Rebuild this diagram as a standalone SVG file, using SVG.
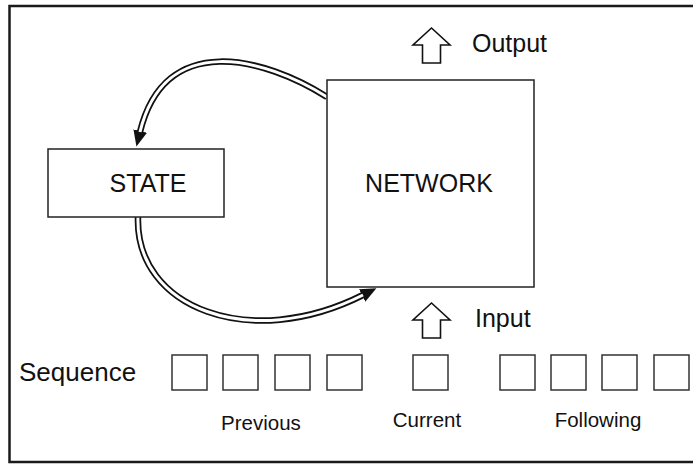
<svg xmlns="http://www.w3.org/2000/svg" width="693" height="464" viewBox="0 0 693 464">
  <style>
    .frame { fill: none; stroke: #1a1a1a; stroke-width: 2.5; }
    .box { fill: #fff; stroke: #222; stroke-width: 1.5; }
    .cell { fill: #fff; stroke: #333; stroke-width: 1.5; }
    .lbl { font-family: "Liberation Sans", Arial, sans-serif; fill: #111; }
    .big { font-size: 25px; }
    .small { font-size: 20.5px; }
    .wire-outer { fill: none; stroke: #111; stroke-width: 6.5; }
    .wire-inner { fill: none; stroke: #fff; stroke-width: 3; }
    .blk { fill: #fff; stroke: #111; stroke-width: 1.6; stroke-linejoin: miter; }
  </style>
  <defs>
    <marker id="head" markerUnits="userSpaceOnUse" markerWidth="18" markerHeight="16" refX="1" refY="7" orient="auto">
      <path d="M0,0 L16,7 L0,14 Z" fill="#111"/>
    </marker>
    <!-- hollow block arrow pointing up, tip at origin -->
    <path id="upArrow" class="blk" d="M0,0 L18.5,17 L9,17 L9,35 L-9,35 L-9,17 L-18.5,17 Z"/>
  </defs>

  <rect class="frame" x="9.5" y="6" width="700" height="456"/>

  <g id="connectors">
    <path class="wire-outer" d="M327,97 C265,58 165,30 140,132" marker-end="url(#head)"/>
    <path class="wire-inner" d="M327,97 C265,58 165,30 140,132"/>
    <path class="wire-outer" d="M138,217 C135,308 250,352 363,295" marker-end="url(#head)"/>
    <path class="wire-inner" d="M138,217 C135,308 250,352 363,295"/>
  </g>

  <g id="state">
    <rect class="box" x="48" y="149" width="176" height="68"/>
    <text class="lbl big" x="148" y="192" text-anchor="middle">STATE</text>
  </g>

  <g id="network">
    <rect class="box" x="327" y="80" width="207" height="207"/>
    <text class="lbl big" x="429" y="192" text-anchor="middle">NETWORK</text>
  </g>

  <g id="output">
    <use href="#upArrow" x="431.5" y="28"/>
    <text class="lbl big" x="472" y="52">Output</text>
  </g>

  <g id="input">
    <use href="#upArrow" x="431.5" y="303"/>
    <text class="lbl big" x="475" y="327">Input</text>
  </g>

  <g id="sequence">
    <text class="lbl big" x="19" y="381" style="font-size:26px">Sequence</text>
    <rect class="cell" x="172" y="355" width="35" height="35"/>
    <rect class="cell" x="223" y="355" width="35" height="35"/>
    <rect class="cell" x="275" y="355" width="35" height="35"/>
    <rect class="cell" x="327" y="355" width="35" height="35"/>
    <rect class="cell" x="413" y="355" width="35" height="35"/>
    <rect class="cell" x="500" y="355" width="35" height="35"/>
    <rect class="cell" x="551" y="355" width="35" height="35"/>
    <rect class="cell" x="602" y="355" width="35" height="35"/>
    <rect class="cell" x="654" y="355" width="35" height="35"/>
    <text class="lbl small" x="261" y="430" text-anchor="middle">Previous</text>
    <text class="lbl small" x="427" y="427" text-anchor="middle">Current</text>
    <text class="lbl small" x="598" y="427" text-anchor="middle">Following</text>
  </g>
</svg>
